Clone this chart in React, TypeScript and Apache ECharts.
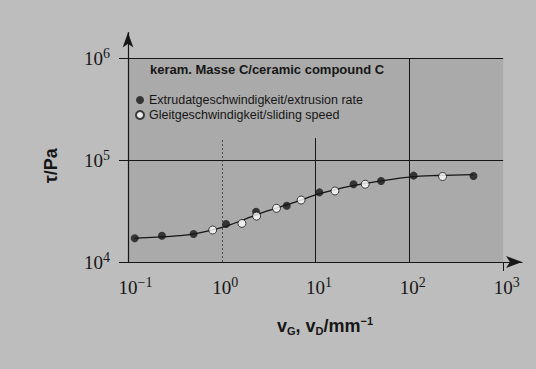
import React, { useEffect, useRef } from "react";
import * as echarts from "echarts";

const titleText = "keram. Masse C/ceramic compound C";
const extrusionName = "Extrudatgeschwindigkeit/extrusion rate";
const slidingName = "Gleitgeschwindigkeit/sliding speed";

// extrusion rate (filled dots)
const extrusionX = [0.118, 0.23, 0.5, 1.11, 2.32, 4.93, 11.0, 25.4, 49.9, 111, 483];
const extrusionY = [17100, 18100, 18800, 23600, 31100, 35600, 48200, 57800, 62200, 70300, 69700];
// sliding speed (open dots)
const slidingX = [0.8, 1.64, 2.35, 3.83, 7.01, 16.1, 33.8, 226];
const slidingY = [20600, 23900, 28200, 33600, 40500, 49700, 57900, 68900];
// fitted curve
const curveX = [0.118, 0.2, 0.35, 0.5, 0.8, 1.2, 2, 3, 5, 7, 10, 15, 25, 50, 100, 200, 480];
const curveY = [17100, 17500, 18100, 18800, 20600, 23000, 27500, 31500, 36500, 40500, 45500, 50500, 56000, 62500, 68000, 70500, 72000];

const xTicks = [0.1, 1, 10, 100, 1000];
const xTickExp = ["\u22121", "0", "1", "2", "3"];
const yTicks = [1e4, 1e5, 1e6];
const yTickExp = ["4", "5", "6"];

const xMin = 0.1;
const xPlotMax = 1000;
const xAxisEnd = 1589;
const yMin = 1e4;
const yPlotMax = 1e6;
const yAxisEnd = 1.78e6;
const vLineTop = 1.64e5;

const SERIF = "'Liberation Serif', 'Times New Roman', serif";
const SANS = "'Liberation Sans', Arial, sans-serif";
const INK = "#161616";

const zip = (xs: number[], ys: number[]) => xs.map((x, i) => [x, ys[i]]);

export default function App() {
  const ref = useRef<HTMLDivElement | null>(null);
  useEffect(() => {
    if (!ref.current) return;
    const chart = echarts.init(ref.current, undefined, { renderer: "svg" });
    const tickRich = {
      b: { fontSize: 19, fontFamily: SERIF, color: INK, lineHeight: 20 },
      s: { fontSize: 14, fontFamily: SERIF, color: INK, lineHeight: 14, padding: [0, 0, 10, 0] },
      p1: { width: 7, fontSize: 14 },
      p2: { width: 15, fontSize: 14 },
    };
    const option: any = {
      animation: false,
      backgroundColor: "#bdbdbd",
      title: {
        text: titleText,
        left: 150,
        top: 63,
        padding: 0,
        textStyle: { fontSize: 13, fontWeight: "bold", fontFamily: SANS, color: INK },
      },
      legend: {
        data: [extrusionName, slidingName],
        orient: "vertical",
        left: 135,
        top: 93,
        padding: 0,
        itemWidth: 8,
        itemHeight: 8,
        itemGap: 1,
        icon: "circle",
        selectedMode: false,
        textStyle: { fontSize: 12.5, lineHeight: 14, fontFamily: SANS, color: INK },
      },
      grid: { left: 128, right: 14, top: 32.5, bottom: 107, containLabel: false },
      xAxis: {
        type: "log",
        logBase: 10,
        min: xMin,
        max: xAxisEnd,
        name: "{m|v}{sub|G}{m|, v}{sub|D}{m|/mm}{sup|\u22121}",
        nameLocation: "middle",
        nameGap: 54,
        nameTextStyle: {
          rich: {
            m: { fontSize: 18, fontWeight: "bold", fontFamily: SANS, color: INK, lineHeight: 20 },
            sub: { fontSize: 11, fontWeight: "bold", fontFamily: SANS, color: INK, lineHeight: 11, padding: [9, 0, 0, 0] },
            sup: { fontSize: 11, fontWeight: "bold", fontFamily: SANS, color: INK, lineHeight: 11, padding: [0, 0, 10, 0] },
          },
        },
        axisLine: {
          show: true,
          symbol: ["none", "arrow"],
          symbolSize: [9, 16],
          lineStyle: { color: INK, width: 1.2 },
        },
        axisTick: { show: true, customValues: [1000], length: 9, lineStyle: { color: INK } },
        axisLabel: {
          customValues: xTicks,
          margin: 15,
          formatter: (v: number) => {
            const i = xTicks.findIndex((t) => Math.abs(Math.log10(t) - Math.log10(v)) < 1e-6);
            const e = xTickExp[i] ?? "";
            const p = e.length > 1 ? "p2" : "p1";
            return `{${p}| }{b|10}{s|${e}}`;
          },
          rich: tickRich,
        },
        splitLine: { show: false },
      },
      yAxis: {
        type: "log",
        logBase: 10,
        min: yMin,
        max: yAxisEnd,
        name: "\u03c4/Pa",
        nameLocation: "middle",
        nameGap: 68,
        nameTextStyle: {
          fontSize: 18,
          fontWeight: "bold",
          fontFamily: SANS,
          color: INK,
          padding: [0, 37, 0, 0],
        },
        axisLine: {
          show: true,
          symbol: ["none", "arrow"],
          symbolSize: [8, 15],
          lineStyle: { color: INK, width: 1.2 },
        },
        axisTick: { show: true, customValues: yTicks, length: 9, lineStyle: { color: INK } },
        axisLabel: {
          customValues: yTicks,
          margin: 18,
          formatter: (v: number) => {
            const i = yTicks.findIndex((t) => Math.abs(Math.log10(t) - Math.log10(v)) < 1e-6);
            return `{b|10}{s|${yTickExp[i] ?? ""}}`;
          },
          rich: tickRich,
        },
        splitLine: { show: false },
      },
      series: [
        {
          name: "curve",
          type: "line",
          data: zip(curveX, curveY),
          smooth: 0.4,
          showSymbol: false,
          silent: true,
          z: 2,
          lineStyle: { color: INK, width: 1.3 },
          markArea: {
            silent: true,
            z: 0,
            itemStyle: { color: "#aaaaaa" },
            data: [[{ coord: [xMin, yMin] }, { coord: [xPlotMax, yPlotMax] }]],
          },
          markLine: {
            silent: true,
            symbol: ["none", "none"],
            z: 1,
            label: { show: false },
            data: [
              [
                { coord: [xMin, 1e5], lineStyle: { color: INK, width: 1, type: "solid" } },
                { coord: [xPlotMax, 1e5] },
              ],
              [
                { coord: [xMin, 1e6], lineStyle: { color: INK, width: 1, type: "solid" } },
                { coord: [xPlotMax, 1e6] },
              ],
              [
                { coord: [1, yMin], lineStyle: { color: "#333", width: 0.8, type: [2, 2] } },
                { coord: [1, vLineTop] },
              ],
              [
                { coord: [10, yMin], lineStyle: { color: INK, width: 1, type: "solid" } },
                { coord: [10, vLineTop] },
              ],
              [
                { coord: [100, yMin], lineStyle: { color: INK, width: 1, type: "solid" } },
                { coord: [100, yPlotMax] },
              ],
            ],
          },
        },
        {
          name: extrusionName,
          type: "scatter",
          data: zip(extrusionX, extrusionY),
          symbol: "circle",
          symbolSize: 8,
          z: 3,
          itemStyle: { color: INK },
        },
        {
          name: slidingName,
          type: "scatter",
          data: zip(slidingX, slidingY),
          symbol: "circle",
          symbolSize: 8,
          z: 3,
          itemStyle: { color: "#ffffff", borderColor: INK, borderWidth: 1 },
        },
      ],
    };
    chart.setOption(option);
    return () => chart.dispose();
  }, []);
  return (
    <div
      ref={ref}
      style={{ position: "fixed", left: 0, top: 0, width: 536, height: 369 }}
    />
  );
}
